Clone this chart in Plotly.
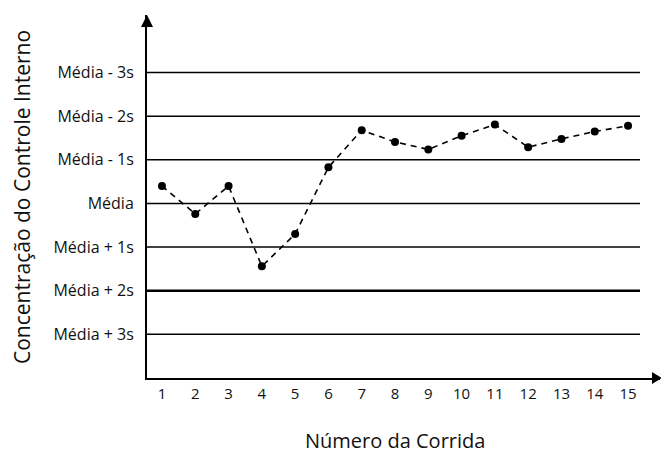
import plotly.graph_objects as go

# Data
runs = list(range(1, 16))
values = [0.40, -0.24, 0.40, -1.44, -0.70, 0.83, 1.68, 1.41, 1.24, 1.55, 1.81, 1.29, 1.48, 1.65, 1.78]
level_vals = [3, 2, 1, 0, -1, -2, -3]
level_labels = ["Média - 3s", "Média - 2s", "Média - 1s", "Média", "Média + 1s", "Média + 2s", "Média + 3s"]
level_widths = [1.5, 1.5, 1.5, 1.5, 1.5, 2.5, 1.5]
x_title = "Número da Corrida"
y_title = "Concentração do Controle Interno"

FONT = "Open Sans"
x_range = [0.55, 15.96]
y_range = [-4.0, 4.32]

L, R, T, B = 147, 1, 15, 79
W, H = 661, 457
PW, PH = W - L - R, H - T - B

fig = go.Figure()
fig.add_trace(go.Scatter(
    x=runs, y=values, mode="lines+markers",
    line=dict(color="black", width=1.6, dash="6px,5px"),
    marker=dict(color="black", size=8),
    showlegend=False, cliponaxis=False, hoverinfo="skip",
))

shapes = []
for v, w in zip(level_vals, level_widths):
    shapes.append(dict(type="line", xref="paper", yref="y", x0=0, x1=(640 - L) / PW,
                       y0=v, y1=v, line=dict(color="black", width=w), layer="below"))
# arrow heads
shapes.append(dict(type="path", xref="paper", yref="paper",
                   path=f"M {-6/PW} {1-12/PH} L {6/PW} {1-12/PH} L 0 1 Z",
                   fillcolor="black", line=dict(color="black", width=0)))
shapes.append(dict(type="path", xref="paper", yref="paper",
                   path=f"M {(652-L)/PW} {6/PH} L {(652-L)/PW} {-6/PH} L {(662-L)/PW} 0 Z",
                   fillcolor="black", line=dict(color="black", width=0)))

annotations = [
    dict(text=x_title, xref="paper", yref="paper", x=(395 - L) / PW, y=(T + PH - 456) / PH,
         xanchor="center", yanchor="bottom", showarrow=False, font=dict(size=20, family=FONT, color="#111")),
    dict(text=y_title, xref="paper", yref="paper", x=(22 - L) / PW, y=(T + PH - 197) / PH,
         xanchor="center", yanchor="middle", textangle=-90, showarrow=False,
         font=dict(size=21, family=FONT, color="#111")),
]

fig.update_layout(
    width=W, height=H,
    margin=dict(l=L, r=R, t=T, b=B),
    paper_bgcolor="white", plot_bgcolor="white",
    font=dict(family=FONT, color="#111", size=16),
    shapes=shapes, annotations=annotations,
    xaxis=dict(range=x_range, tickvals=runs, ticktext=[str(r) for r in runs],
               showgrid=False, zeroline=False, showline=True, linecolor="black", linewidth=2,
               ticks="", ticklabelstandoff=1, automargin=False, tickfont=dict(size=15)),
    yaxis=dict(range=y_range, tickvals=level_vals, ticktext=level_labels,
               showgrid=False, zeroline=False, showline=True, linecolor="black", linewidth=2,
               ticks="", ticklabelstandoff=8, automargin=False),
)

fig.write_html("out.html", config={"displayModeBar": False, "staticPlot": True},
               post_script="document.body.style.margin='0';document.body.style.overflow='hidden';")
